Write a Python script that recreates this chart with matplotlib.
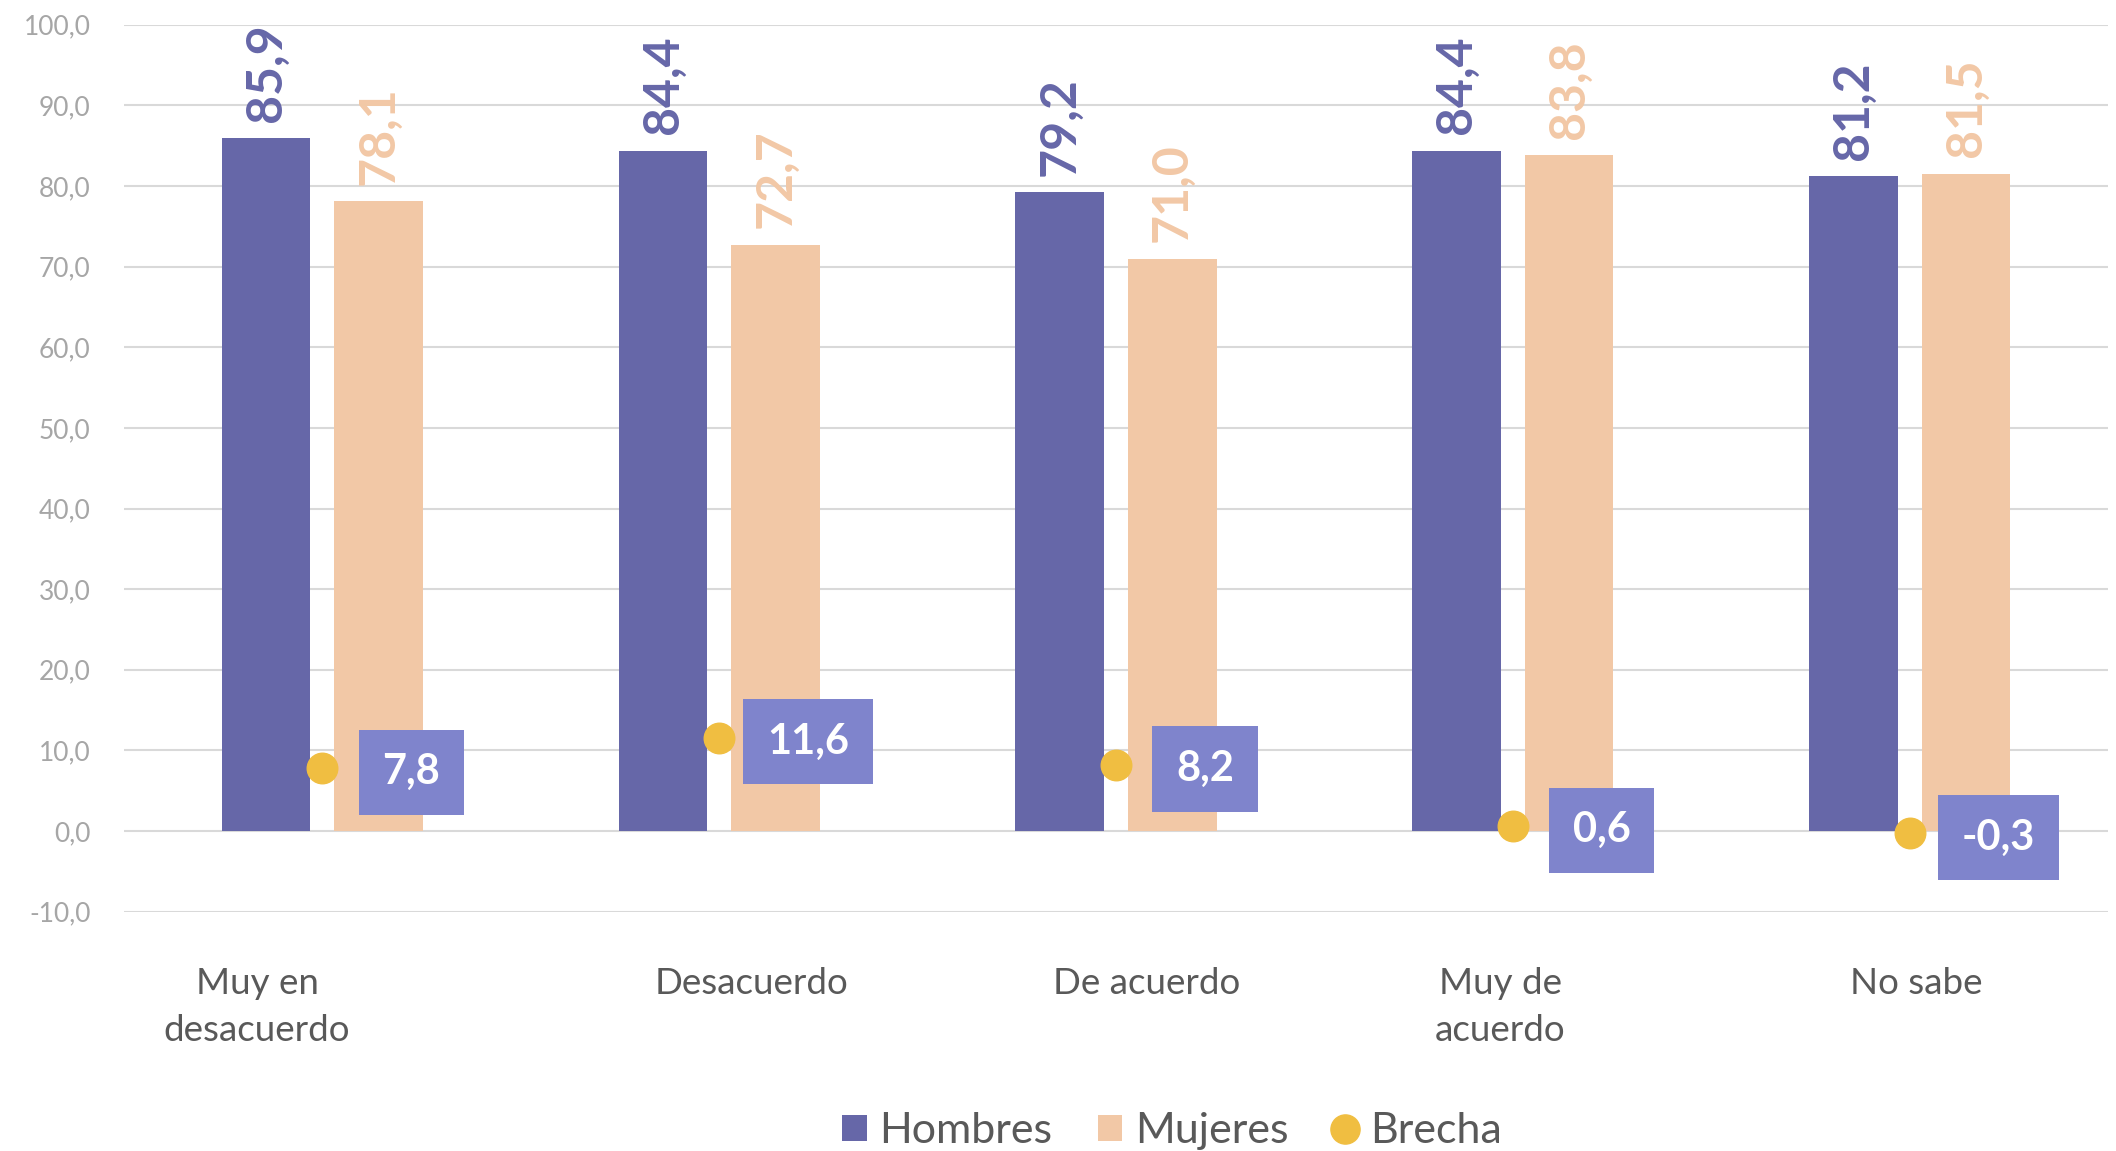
import matplotlib.pyplot as plt
import numpy as np
from matplotlib.lines import Line2D
from matplotlib.patches import Patch
from matplotlib.transforms import ScaledTranslation

# -----------------------------------------------------------------------------
# DATA
# -----------------------------------------------------------------------------
CATEGORIES = ["Muy en\ndesacuerdo", "Desacuerdo", "De acuerdo", "Muy de\nacuerdo", "No sabe"]
HOMBRES = [85.9, 84.4, 79.2, 84.4, 81.2]
MUJERES = [78.1, 72.7, 71.0, 83.8, 81.5]
BRECHA = [7.8, 11.6, 8.2, 0.6, -0.3]
Y_TICKS = [-10, 0, 10, 20, 30, 40, 50, 60, 70, 80, 90, 100]

# -----------------------------------------------------------------------------
# STYLE
# -----------------------------------------------------------------------------
C_HOMBRES = "#6667A8"
C_MUJERES = "#F2C8A6"
C_BRECHA = "#F0BE41"
C_BOX = "#7F84CC"
C_GRID = "#D9D9D9"
C_YTICK = "#A6A6A6"
C_TEXT = "#595959"

# Excel places the category labels slightly off-centre (points).
XLABEL_NUDGE = [-47, 23, 22, -9, 5]

plt.rcParams["font.family"] = ["Lato", "DejaVu Sans"]


def fmt(v: float) -> str:
    """Spanish decimal comma."""
    return f"{v:.1f}".replace(".", ",")


def main() -> None:
    fig = plt.figure(figsize=(21.16, 11.51), dpi=100)
    ax = fig.add_axes([0.0586, 0.2079, 0.9376, 0.7706])

    x = np.arange(len(CATEGORIES))
    width = 0.2235
    offset = 0.142

    ax.bar(x - offset, HOMBRES, width, color=C_HOMBRES, zorder=2)
    ax.bar(x + offset, MUJERES, width, color=C_MUJERES, zorder=2)

    for xi, h, m in zip(x, HOMBRES, MUJERES):
        ax.annotate(fmt(h), (xi - offset, h), xytext=(0, 12), textcoords="offset points",
                    rotation=90, ha="center", va="bottom", fontsize=36,
                    fontweight="bold", color=C_HOMBRES, zorder=4)
        ax.annotate(fmt(m), (xi + offset, m), xytext=(0, 12), textcoords="offset points",
                    rotation=90, ha="center", va="bottom", fontsize=36,
                    fontweight="bold", color=C_MUJERES, zorder=4)

    ax.plot(x, BRECHA, linestyle="none", marker="o", markersize=22,
            color=C_BRECHA, zorder=5)

    for xi, b in zip(x, BRECHA):
        ax.annotate(fmt(b), (xi, b), xytext=(64, -3), textcoords="offset points",
                    ha="center", va="center", fontsize=30, fontweight="bold",
                    color="white", zorder=6,
                    bbox=dict(boxstyle="square,pad=0.57", fc=C_BOX, ec="none"))

    ax.set_xlim(-0.5, len(CATEGORIES) - 0.5)
    ax.set_ylim(-10, 100)
    ax.set_yticks(Y_TICKS)
    ax.set_yticklabels([fmt(t) for t in Y_TICKS], fontsize=19, color=C_YTICK)
    ax.set_xticks(x)
    ax.set_xticklabels(CATEGORIES, fontsize=26.5, color=C_TEXT, linespacing=1.5)
    ax.tick_params(axis="x", length=0, pad=40)
    ax.tick_params(axis="y", length=0, pad=24)
    for lab, dx in zip(ax.get_xticklabels(), XLABEL_NUDGE):
        lab.set_transform(lab.get_transform()
                          + ScaledTranslation(dx / 72, 0, fig.dpi_scale_trans))
    ax.grid(axis="y", color=C_GRID, linewidth=1.5, zorder=0)
    ax.set_axisbelow(True)
    for spine in ax.spines.values():
        spine.set_visible(False)

    handles = [
        Patch(facecolor=C_HOMBRES, label="Hombres"),
        Patch(facecolor=C_MUJERES, label="Mujeres"),
        Line2D([], [], linestyle="none", marker="o", markersize=21,
               color=C_BRECHA, label="Brecha"),
    ]
    leg = fig.legend(handles=handles, loc="center", bbox_to_anchor=(0.554, 0.0174),
                     ncol=3, frameon=False, fontsize=31, handlelength=0.56,
                     handleheight=0.56, handletextpad=0.3, columnspacing=1.05)
    for t in leg.get_texts():
        t.set_color(C_TEXT)

    fig.savefig("out.png", dpi=100)
    plt.close(fig)


if __name__ == "__main__":
    main()
